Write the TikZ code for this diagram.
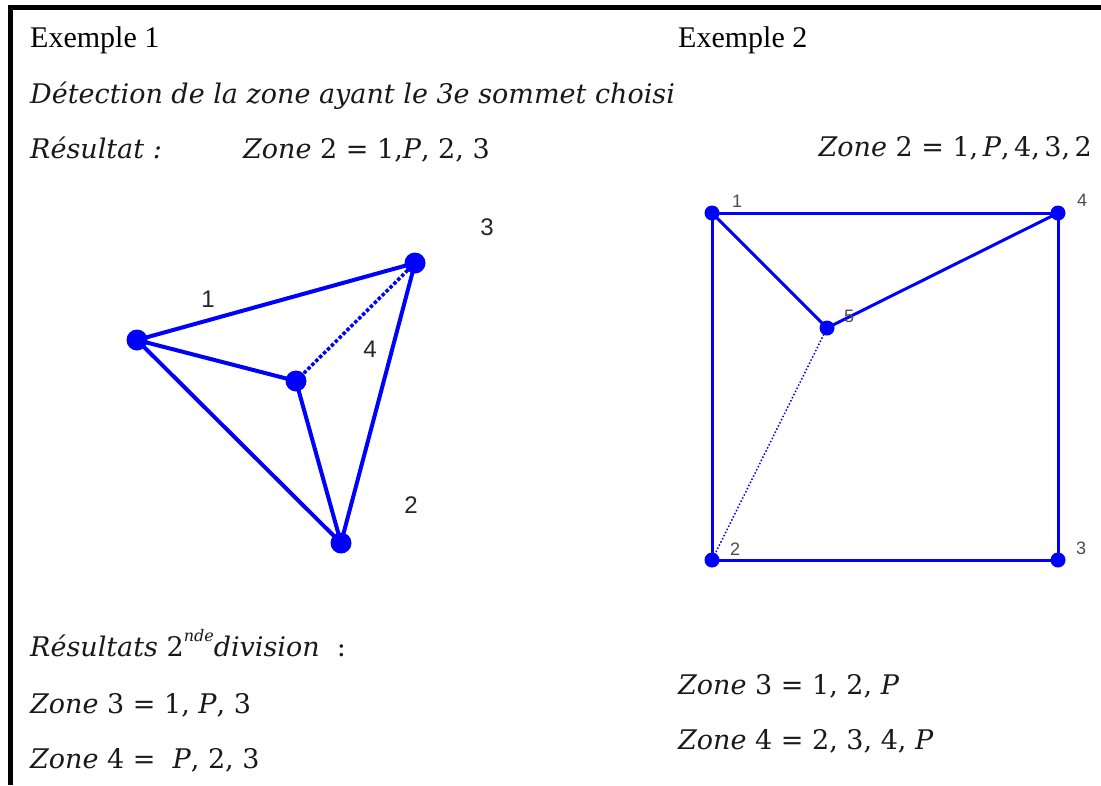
\documentclass[tikz,border=0pt]{standalone}
\usepackage{fontspec}
\setmainfont{Liberation Serif}
\newfontfamily\mathlikefont{DejaVu Serif}
\newfontfamily\lblfont{Liberation Sans}
\begin{document}
\begin{tikzpicture}[x=1pt,y=-1pt,
  title/.style={anchor=base west,inner sep=0pt,font=\fontsize{30}{31}\selectfont},
  itx/.style={anchor=base west,inner sep=0pt,font=\mathlikefont\fontsize{27}{28}\selectfont,text=black!90},
  edgeA/.style={draw=blue,line width=4pt},
  edgeB/.style={draw=blue,line width=3pt},
  dotA/.style={circle,fill=blue,minimum size=21pt,inner sep=0pt},
  dotB/.style={circle,fill=blue,minimum size=15pt,inner sep=0pt},
  lblA/.style={inner sep=0pt,font=\lblfont\fontsize{24}{25}\selectfont,text=black!85},
  lblB/.style={inner sep=0pt,font=\lblfont\fontsize{18}{19}\selectfont,text=black!70}]
\useasboundingbox (0,0) rectangle (1101,785);
\fill[white] (0,0) rectangle (1101,785);
% frame
\draw[line width=5pt] (10.5,785) -- (10.5,7.5) -- (1101,7.5);
% texts
\node[title] (t1) at (30,47) {Exemple 1};
\node[title] (t2) at (678,47) {Exemple 2};
\node[itx] (det) at (30,103) {\itshape Détection de la zone ayant le 3e sommet choisi};
\node[itx] (res) at (30,158) {\itshape Résultat :};
\node[itx] (z2a) at (243,158) {{\itshape Zone} 2 = 1,{\itshape P}, 2, 3};
\node[itx,anchor=base east] (z2b) at (1092,156) {{\itshape Zone} 2 = 1,\,{\itshape P},\,4,\,3,\,2};
\node[itx] (res2) at (30,656) {{\itshape Résultats} 2\raisebox{0.55em}{\fontsize{16}{16}\selectfont\itshape nde}{\itshape division}\ \ :};
\node[itx] (z3a) at (30,713) {{\itshape Zone} 3 = 1, {\itshape P}, 3};
\node[itx] (z4a) at (30,768) {{\itshape Zone} 4 = \ {\itshape P}, 2, 3};
\node[itx] (z3b) at (678,694) {{\itshape Zone} 3 = 1, 2, {\itshape P}};
\node[itx] (z4b) at (678,749) {{\itshape Zone} 4 = 2, 3, 4, {\itshape P}};
% example 1
\node[dotA] (a1) at (137,340) {};
\node[dotA] (a3) at (415,263) {};
\node[dotA] (aP) at (296,381) {};
\node[dotA] (a2) at (341,543) {};
\draw[edgeA] (a1.center) -- (a3.center) -- (a2.center) -- (a1.center);
\draw[edgeA] (a1.center) -- (aP.center) -- (a2.center);
\draw[draw=blue,line width=3.5pt,dotted] (aP.center) -- (a3.center);
\node[lblA] (la1) at (208,299) {1};
\node[lblA] (la3) at (487,227) {3};
\node[lblA] (la4) at (370,349) {4};
\node[lblA] (la2) at (411,505) {2};
% example 2
\node[dotB] (b1) at (712,213) {};
\node[dotB] (b4) at (1058,213) {};
\node[dotB] (b3) at (1058,560) {};
\node[dotB] (b2) at (712,560) {};
\node[dotB] (bP) at (827,328) {};
\draw[edgeB] (b1.center) -- (b4.center) -- (b3.center) -- (b2.center) -- cycle;
\draw[edgeB] (b1.center) -- (bP.center) -- (b4.center);
\draw[draw=blue,line width=1.5pt,dotted] (bP.center) -- (b2.center);
\node[lblB] (lb1) at (737,201) {1};
\node[lblB] (lb4) at (1082,200) {4};
\node[lblB] (lb3) at (1081,548) {3};
\node[lblB] (lb2) at (735,549) {2};
\node[lblB] (lb5) at (849,316) {5};
\end{tikzpicture}
\end{document}
